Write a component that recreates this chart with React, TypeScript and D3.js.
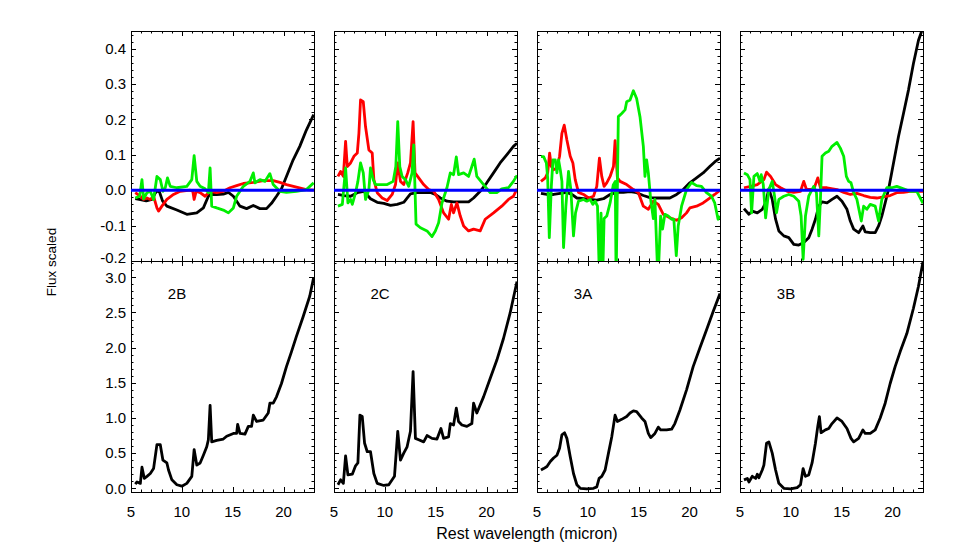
import React, { useRef, useEffect } from 'react';
import * as d3 from 'd3';

type Pt = [number, number];

// panel names
const panelNames = ['2B', '2C', '3A', '3B'];

// ---- 2B ----
const blackTop2B: Pt[] = [[5.42,-0.024],[5.8,-0.026],[6.5,-0.03],[7.06,-0.026],[7.35,-0.01],[7.55,-0.002],[7.8,-0.005],[8.1,-0.03],[8.53,-0.045],[9.51,-0.056],[10.49,-0.068],[11.47,-0.064],[12.12,-0.05],[12.61,-0.017],[12.78,-0.012],[13.43,-0.012],[14.08,-0.011],[14.58,-0.006],[15.07,-0.017],[15.72,-0.045],[16.37,-0.052],[17.03,-0.043],[17.68,-0.052],[18.33,-0.052],[18.82,-0.037],[19.31,-0.017],[19.8,0.004],[20.29,0.039],[20.95,0.086],[21.6,0.124],[22.25,0.17],[22.97,0.214]];
const redTop2B: Pt[] = [[5.42,-0.007],[5.92,-0.017],[6.24,-0.026],[6.57,-0.022],[6.9,-0.026],[7.22,-0.017],[7.55,-0.05],[7.71,-0.059],[8.04,-0.045],[8.53,-0.026],[9.18,-0.012],[9.84,-0.003],[10.82,0],[11.08,-0.003],[11.21,-0.026],[11.41,-0.003],[11.8,-0.007],[12.29,-0.017],[12.78,-0.003],[13.43,-0.007],[14.08,-0.003],[14.74,0.007],[15.39,0.013],[16.05,0.019],[17.03,0.022],[18.01,0.027],[18.99,0.027],[19.64,0.022],[20.29,0.016],[21.27,0.009],[22.25,0.002],[22.97,0]];
const greenTop2B: Pt[] = [[5.42,-0.022],[5.85,-0.017],[6.08,0.03],[6.24,-0.024],[6.57,-0.007],[6.9,-0.003],[7.22,-0.026],[7.55,0.039],[7.88,0.03],[8.14,-0.003],[8.37,0.007],[8.59,0.035],[8.86,0.011],[9.51,0.007],[10.49,0.011],[10.98,0.03],[11.21,0.098],[11.47,0.025],[11.8,0.011],[12.29,0.004],[12.61,-0.007],[12.78,0.063],[12.94,-0.045],[13.43,-0.05],[14.08,-0.056],[14.58,-0.064],[15.07,-0.05],[15.39,-0.017],[16.05,0.011],[16.7,0.025],[17.03,0.049],[17.19,0.021],[17.68,0.03],[18.17,0.025],[18.66,0.047],[18.99,0.016],[19.64,-0.003],[20.29,-0.006],[21.27,-0.003],[22.25,0.002],[22.97,0.021]];
const spec2B: Pt[] = [[5.42,0.06],[5.59,0.09],[5.92,0.07],[6.08,0.3],[6.31,0.14],[6.57,0.17],[6.9,0.21],[7.22,0.28],[7.55,0.62],[7.88,0.62],[8.14,0.4],[8.53,0.36],[8.69,0.26],[9.02,0.12],[9.51,0.05],[10.0,0.03],[10.49,0.07],[10.98,0.17],[11.21,0.55],[11.47,0.33],[11.8,0.36],[12.12,0.47],[12.45,0.59],[12.61,0.69],[12.78,1.18],[12.94,0.66],[13.43,0.68],[14.08,0.7],[14.41,0.74],[15.07,0.78],[15.39,0.78],[15.49,0.91],[15.72,0.78],[16.21,0.77],[16.54,0.88],[16.86,0.88],[17.03,1.04],[17.35,0.95],[18.01,0.97],[18.5,1.07],[18.66,1.21],[18.99,1.21],[19.31,1.3],[19.8,1.49],[20.29,1.73],[20.78,1.94],[21.27,2.16],[21.93,2.44],[22.58,2.73],[22.97,3.0]];

// ---- 2C ----
const blackTop2C: Pt[] = [[5.39,-0.012],[5.98,-0.015],[6.63,-0.017],[7.29,-0.007],[7.94,-0.003],[8.59,-0.024],[9.25,-0.034],[9.9,-0.037],[10.56,-0.043],[11.21,-0.04],[11.86,-0.034],[12.52,-0.01],[13.17,-0.007],[13.82,-0.007],[14.48,-0.006],[14.97,-0.012],[15.46,-0.022],[16.11,-0.031],[16.76,-0.033],[17.42,-0.033],[18.24,-0.033],[18.73,-0.022],[19.38,-0.003],[20.03,0.021],[20.69,0.049],[21.34,0.077],[21.99,0.1],[22.65,0.124],[23.0,0.133]];
const redTop2C: Pt[] = [[5.39,0.039],[5.65,0.053],[5.92,0.039],[6.14,0.138],[6.31,0.067],[6.63,0.077],[6.96,0.096],[7.29,0.105],[7.45,0.161],[7.61,0.255],[7.88,0.25],[8.1,0.18],[8.43,0.114],[8.76,0.105],[8.92,0.03],[9.25,-0.007],[9.74,-0.022],[10.23,-0.029],[10.72,-0.012],[11.05,0.016],[11.27,0.077],[11.54,0.025],[11.86,0.016],[12.25,0.049],[12.52,0.077],[12.78,0.194],[12.97,0.049],[13.33,0.035],[13.82,0.016],[14.31,0.002],[14.8,-0.003],[15.29,-0.026],[15.78,-0.064],[16.27,-0.082],[16.54,-0.04],[16.76,-0.064],[17.09,-0.036],[17.42,-0.073],[17.75,-0.101],[18.24,-0.115],[18.73,-0.11],[19.38,-0.115],[19.87,-0.082],[20.69,-0.064],[21.5,-0.045],[22.16,-0.026],[22.65,-0.017],[23.0,0.004]];
const greenTop2C: Pt[] = [[5.39,-0.045],[5.82,-0.04],[6.14,0.063],[6.37,-0.036],[6.63,-0.026],[6.8,-0.04],[7.12,-0.007],[7.35,0.025],[7.61,0.077],[7.88,0.049],[8.1,-0.026],[8.43,0.002],[8.59,0.063],[8.86,0.03],[9.08,0.016],[9.58,0.016],[10.23,0.016],[10.82,0.025],[11.08,0.067],[11.27,0.194],[11.47,0.067],[11.7,0.039],[12.03,0.03],[12.35,0.011],[12.68,0.049],[12.84,0.128],[13.07,-0.096],[13.5,-0.106],[14.15,-0.115],[14.64,-0.131],[14.97,-0.115],[15.29,-0.092],[15.62,-0.036],[16.11,0.007],[16.44,0.049],[16.76,0.044],[17.03,0.094],[17.25,0.044],[17.75,0.049],[18.24,0.039],[18.56,0.067],[18.79,0.088],[19.05,0.039],[19.71,0.016],[20.36,-0.007],[21.01,-0.007],[21.5,0.004],[22.16,0.007],[22.65,0.025],[23.0,0.042]];
const spec2C: Pt[] = [[5.39,0.05],[5.65,0.12],[5.92,0.07],[6.14,0.46],[6.37,0.19],[6.8,0.2],[7.12,0.32],[7.35,0.36],[7.55,1.04],[7.78,1.02],[8.01,0.64],[8.27,0.52],[8.59,0.52],[8.92,0.21],[9.25,0.07],[9.9,0.04],[10.39,0.05],[10.72,0.12],[10.95,0.17],[11.27,0.81],[11.54,0.4],[11.86,0.5],[12.19,0.59],[12.52,0.81],[12.78,1.66],[13.01,0.71],[13.33,0.69],[13.82,0.66],[14.15,0.75],[14.64,0.71],[15.13,0.7],[15.52,0.85],[15.78,0.71],[16.27,0.73],[16.44,0.92],[16.76,0.9],[17.03,1.14],[17.25,0.95],[17.58,0.9],[18.07,0.88],[18.56,0.92],[18.73,1.21],[19.05,1.07],[19.71,1.3],[20.36,1.56],[21.01,1.82],[21.67,2.13],[22.32,2.49],[23.0,2.94]];

// ---- 3A ----
const blackTop3A: Pt[] = [[5.39,-0.009],[5.98,-0.012],[6.63,-0.012],[7.29,-0.009],[7.94,-0.006],[8.43,-0.012],[8.92,-0.022],[9.58,-0.024],[10.23,-0.026],[10.88,-0.028],[11.54,-0.024],[12.19,-0.012],[12.84,-0.006],[13.5,-0.006],[14.15,-0.004],[14.8,-0.007],[15.46,-0.015],[16.11,-0.021],[16.76,-0.022],[17.42,-0.022],[18.07,-0.022],[18.73,-0.012],[19.38,0.002],[20.03,0.021],[20.69,0.035],[21.34,0.049],[21.99,0.067],[22.48,0.08],[23.0,0.091]];
const redTop3A: Pt[] = [[5.39,0.025],[5.82,0.035],[6.05,0.049],[6.24,0.105],[6.41,0.067],[6.63,0.058],[6.96,0.063],[7.22,0.096],[7.45,0.161],[7.68,0.184],[7.94,0.142],[8.27,0.096],[8.53,0.077],[8.76,0.03],[9.08,-0.006],[9.58,-0.012],[10.07,-0.022],[10.56,-0.017],[10.88,0.011],[11.14,0.091],[11.37,0.039],[11.6,0.011],[11.86,0.021],[12.19,0.039],[12.52,0.067],[12.68,0.14],[12.91,0.035],[13.17,0.025],[13.82,0.016],[14.48,0.002],[14.97,-0.007],[15.46,-0.045],[15.95,-0.054],[16.44,-0.031],[16.93,-0.04],[17.42,-0.068],[18.07,-0.078],[18.73,-0.085],[19.22,-0.078],[19.71,-0.064],[20.03,-0.05],[20.69,-0.045],[21.34,-0.036],[21.99,-0.022],[22.48,-0.012],[23.0,0]];
const greenTop3A: Pt[] = [[5.39,0.095],[5.65,0.095],[5.92,0.077],[6.05,0.035],[6.21,-0.134],[6.41,0.011],[6.57,0.086],[6.8,0.086],[6.96,0.049],[7.12,0.086],[7.29,0.058],[7.45,0.025],[7.61,-0.162],[7.84,-0.045],[8.1,0.053],[8.33,0.002],[8.59,-0.129],[8.79,-0.064],[9.08,-0.031],[9.58,-0.026],[9.9,-0.031],[10.23,-0.026],[10.49,-0.04],[10.72,-0.031],[10.95,-0.045],[11.15,-0.26],[11.3,-0.065],[11.45,-0.26],[11.6,-0.08],[11.86,-0.073],[12.19,-0.036],[12.5,0.015],[12.7,0.025],[12.78,-0.26],[12.88,-0.05],[13.0,0.208],[13.33,0.217],[13.66,0.227],[13.82,0.25],[14.15,0.255],[14.48,0.281],[14.8,0.259],[15.13,0.208],[15.46,0.124],[15.62,0.039],[15.78,0.086],[15.95,0.049],[16.18,-0.026],[16.44,-0.08],[16.6,-0.026],[16.9,-0.26],[17.16,-0.073],[17.35,-0.11],[17.58,-0.068],[17.91,-0.073],[18.24,-0.082],[18.46,-0.082],[18.7,-0.185],[18.89,-0.101],[19.22,-0.045],[19.71,0.002],[20.2,0.022],[20.69,0.013],[21.18,0.011],[21.67,-0.007],[22.16,-0.017],[22.48,-0.036],[22.81,-0.082],[23.0,-0.073]];
const spec3A: Pt[] = [[5.39,0.26],[5.65,0.28],[5.98,0.31],[6.31,0.38],[6.63,0.43],[6.96,0.47],[7.22,0.57],[7.45,0.76],[7.71,0.79],[7.94,0.71],[8.27,0.45],[8.59,0.21],[8.92,0.05],[9.25,0.0],[9.9,-0.01],[10.56,0.0],[10.88,0.02],[11.11,0.14],[11.37,0.17],[11.7,0.26],[12.03,0.5],[12.35,0.73],[12.68,1.04],[12.91,0.95],[13.33,0.98],[13.82,1.02],[14.15,1.07],[14.48,1.1],[14.8,1.09],[15.29,1.0],[15.62,0.95],[15.95,0.78],[16.18,0.72],[16.6,0.78],[16.93,0.87],[17.16,0.83],[17.75,0.83],[18.24,0.84],[18.56,0.92],[19.05,1.11],[19.71,1.4],[20.36,1.73],[21.01,1.99],[21.67,2.25],[22.32,2.51],[23.0,2.77]];

// ---- 3B ----
const blackTop3B: Pt[] = [[5.39,-0.052],[5.88,-0.068],[6.21,-0.059],[6.7,-0.064],[7.19,-0.054],[7.52,-0.036],[7.84,0.004],[8.17,-0.026],[8.5,-0.082],[8.82,-0.115],[9.31,-0.129],[9.8,-0.134],[10.29,-0.153],[10.78,-0.155],[11.27,-0.148],[11.76,-0.134],[12.09,-0.11],[12.42,-0.082],[12.75,-0.045],[13.07,-0.033],[13.56,-0.036],[14.05,-0.026],[14.54,-0.017],[15.03,-0.031],[15.52,-0.054],[15.85,-0.087],[16.18,-0.11],[16.67,-0.12],[17.09,-0.101],[17.32,-0.118],[17.81,-0.12],[18.3,-0.12],[18.63,-0.101],[18.95,-0.073],[19.28,-0.036],[19.61,0.002],[20.1,0.077],[20.59,0.152],[21.08,0.217],[21.57,0.283],[22.06,0.358],[22.55,0.423],[23.0,0.46]];
const redTop3B: Pt[] = [[5.39,0.007],[6.05,0.011],[6.7,0.016],[7.35,0.03],[7.61,0.051],[8.01,0.039],[8.5,0.016],[8.99,0.007],[9.64,-0.003],[10.29,-0.006],[10.95,-0.003],[11.27,0.025],[11.54,0.002],[12.25,0.002],[12.65,0.035],[12.91,0.007],[13.56,0.007],[14.54,0.002],[15.2,-0.006],[15.85,-0.012],[16.5,-0.009],[17.16,-0.015],[17.81,-0.02],[18.46,-0.022],[19.12,-0.019],[19.77,-0.015],[20.42,-0.007],[21.08,-0.006],[21.73,-0.003],[22.39,-0.003],[23.0,-0.003]];
const greenTop3B: Pt[] = [[5.39,0.049],[5.72,0.044],[5.98,0.03],[6.14,-0.064],[6.37,0.039],[6.7,0.047],[6.96,0.025],[7.09,0.044],[7.29,0.016],[7.52,-0.078],[7.84,0.002],[8.17,0.025],[8.4,-0.017],[8.59,-0.064],[8.82,-0.026],[9.31,-0.017],[9.8,-0.012],[10.29,-0.017],[10.78,-0.031],[11.01,-0.073],[11.21,-0.195],[11.44,-0.073],[11.76,-0.017],[12.25,0.011],[12.52,-0.007],[12.75,-0.129],[12.91,-0.026],[13.07,0.096],[13.4,0.105],[13.73,0.11],[14.05,0.124],[14.54,0.135],[14.87,0.119],[15.2,0.096],[15.46,0.039],[15.69,0.025],[15.92,0.021],[16.18,-0.007],[16.5,-0.026],[16.93,-0.087],[17.16,-0.045],[17.48,-0.054],[17.81,-0.04],[18.3,-0.045],[18.63,-0.087],[18.95,-0.026],[19.44,0.007],[19.93,0.007],[20.42,0.011],[21.08,0.004],[21.73,-0.003],[22.39,-0.003],[23.0,-0.037]];
const spec3B: Pt[] = [[5.39,0.12],[5.72,0.14],[5.88,0.09],[6.21,0.17],[6.54,0.14],[6.7,0.2],[6.86,0.15],[7.19,0.26],[7.35,0.33],[7.61,0.64],[7.84,0.66],[8.17,0.5],[8.5,0.26],[8.82,0.07],[9.31,0.0],[9.97,-0.01],[10.62,0.01],[10.95,0.05],[11.21,0.28],[11.44,0.17],[11.76,0.19],[12.09,0.36],[12.42,0.64],[12.65,0.88],[12.81,1.02],[12.97,0.79],[13.4,0.83],[13.73,0.85],[14.05,0.92],[14.54,1.0],[15.03,0.95],[15.52,0.85],[15.92,0.71],[16.18,0.66],[16.67,0.71],[17.09,0.83],[17.32,0.78],[17.81,0.78],[18.3,0.83],[18.79,1.0],[19.28,1.21],[19.77,1.49],[20.26,1.73],[20.75,1.94],[21.41,2.2],[22.06,2.56],[22.55,2.87],[23.0,3.22]];

const blackTops = [blackTop2B, blackTop2C, blackTop3A, blackTop3B];
const redTops = [redTop2B, redTop2C, redTop3A, redTop3B];
const greenTops = [greenTop2B, greenTop2C, greenTop3A, greenTop3B];
const spectra = [spec2B, spec2C, spec3A, spec3B];

const xMajor = [5, 10, 15, 20];
const yTopMajor = [-0.2, -0.1, 0.0, 0.1, 0.2, 0.3, 0.4];
const yBotMajor = [0.0, 0.5, 1.0, 1.5, 2.0, 2.5, 3.0];

const W = 969;
const H = 554;
const FONT = '"Liberation Sans", Arial, Helvetica, sans-serif';

const App = () => {
  const ref = useRef<SVGSVGElement>(null);

  useEffect(() => {
    if (!ref.current) return;
    const svg = d3.select(ref.current);
    svg.selectAll('*').remove();

    const lefts = [131, 334, 537, 740];
    const pw = 183;
    const top = 31;
    const mid = 261;
    const bot = 492;

    const yTop = d3.scaleLinear().domain([-0.2, 0.45]).range([mid, top]);
    const yBot = d3.scaleLinear().domain([-0.053, 3.232]).range([bot, mid]);

    const defs = svg.append('defs');

    const yTopMinor = d3.range(-0.2, 0.45, 0.02).filter((v) => Math.abs(v * 10 - Math.round(v * 10)) > 1e-6);
    const yBotMinor = d3.range(0, 3.23, 0.1).filter((v) => Math.abs(v * 2 - Math.round(v * 2)) > 1e-6);
    const xMinor = d3.range(6, 23, 1).filter((v) => v % 5 !== 0);

    lefts.forEach((left, i) => {
      const x = d3.scaleLinear().domain([5, 23]).range([left, left + pw]);

      const subs = [
        { y: yTop, y0: top, y1: mid, major: yTopMajor, minor: yTopMinor },
        { y: yBot, y0: mid, y1: bot, major: yBotMajor, minor: yBotMinor }
      ];

      subs.forEach((s, j) => {
        const id = `clip-${i}-${j}`;
        defs.append('clipPath').attr('id', id)
          .append('rect').attr('x', left).attr('y', s.y0).attr('width', pw).attr('height', s.y1 - s.y0);

        const g = svg.append('g');
        const ticks = g.append('g').attr('stroke', '#000').attr('stroke-width', 1);

        // x ticks on top and bottom edges (inward)
        const xt = (vals: number[], len: number) => {
          vals.forEach((v) => {
            const px = Math.round(x(v)) + 0.5;
            ticks.append('line').attr('x1', px).attr('x2', px).attr('y1', s.y0).attr('y2', s.y0 + len);
            ticks.append('line').attr('x1', px).attr('x2', px).attr('y1', s.y1).attr('y2', s.y1 - len);
          });
        };
        xt(xMajor.filter((v) => v > 5), 5);
        xt(xMinor, 2.5);

        // y ticks on left and right edges (inward)
        const yt = (vals: number[], len: number) => {
          vals.forEach((v) => {
            const py = Math.round(s.y(v)) + 0.5;
            ticks.append('line').attr('x1', left).attr('x2', left + len).attr('y1', py).attr('y2', py);
            ticks.append('line').attr('x1', left + pw).attr('x2', left + pw - len).attr('y1', py).attr('y2', py);
          });
        };
        yt(s.major, 5);
        yt(s.minor, 2.5);

        g.append('rect')
          .attr('x', left + 0.5).attr('y', s.y0 + 0.5)
          .attr('width', pw).attr('height', s.y1 - s.y0)
          .attr('fill', 'none').attr('stroke', '#000').attr('stroke-width', 1);

        const line = d3.line<Pt>().x((d) => x(d[0])).y((d) => s.y(d[1]));
        const plot = g.append('g').attr('clip-path', `url(#${id})`);

        if (j === 0) {
          const series: [Pt[], string][] = [
            [blackTops[i], '#000000'],
            [redTops[i], '#ff0000'],
            [greenTops[i], '#00ee00']
          ];
          series.forEach(([data, color]) => {
            plot.append('path').datum(data)
              .attr('d', line).attr('fill', 'none')
              .attr('stroke', color).attr('stroke-width', 2.8)
              .attr('stroke-linejoin', 'round');
          });
          plot.append('line')
            .attr('x1', x(5)).attr('x2', x(23))
            .attr('y1', yTop(0)).attr('y2', yTop(0))
            .attr('stroke', '#0000ff').attr('stroke-width', 2.8);
        } else {
          plot.append('path').datum(spectra[i])
            .attr('d', line).attr('fill', 'none')
            .attr('stroke', '#000').attr('stroke-width', 2.8)
            .attr('stroke-linejoin', 'round');
          g.append('text')
            .attr('x', left + 46).attr('y', 299)
            .attr('text-anchor', 'middle')
            .attr('font-family', FONT).attr('font-size', 15)
            .text(panelNames[i]);
        }

        // y labels only on the first panel
        if (i === 0) {
          s.major.forEach((v) => {
            g.append('text')
              .attr('x', left - 5)
              .attr('y', s.y(v) + (j === 0 && v === -0.2 ? -3 : 0))
              .attr('dy', '0.35em')
              .attr('text-anchor', 'end')
              .attr('font-family', FONT).attr('font-size', 15)
              .text(v.toFixed(1));
          });
        }
      });

      // x tick labels
      xMajor.forEach((v) => {
        svg.append('text')
          .attr('x', x(v)).attr('y', 517)
          .attr('text-anchor', 'middle')
          .attr('font-family', FONT).attr('font-size', 15)
          .text(String(v));
      });
    });

    svg.append('text')
      .attr('transform', `translate(56, 262) rotate(-90)`)
      .attr('text-anchor', 'middle')
      .attr('font-family', FONT).attr('font-size', 13.5)
      .text('Flux scaled');

    svg.append('text')
      .attr('x', 527).attr('y', 539)
      .attr('text-anchor', 'middle')
      .attr('font-family', FONT).attr('font-size', 16)
      .text('Rest wavelength (micron)');
  }, []);

  return (
    <svg
      ref={ref}
      width={W}
      height={H}
      style={{ position: 'absolute', left: 0, top: 0, background: '#fff' }}
    />
  );
};

export default App;
